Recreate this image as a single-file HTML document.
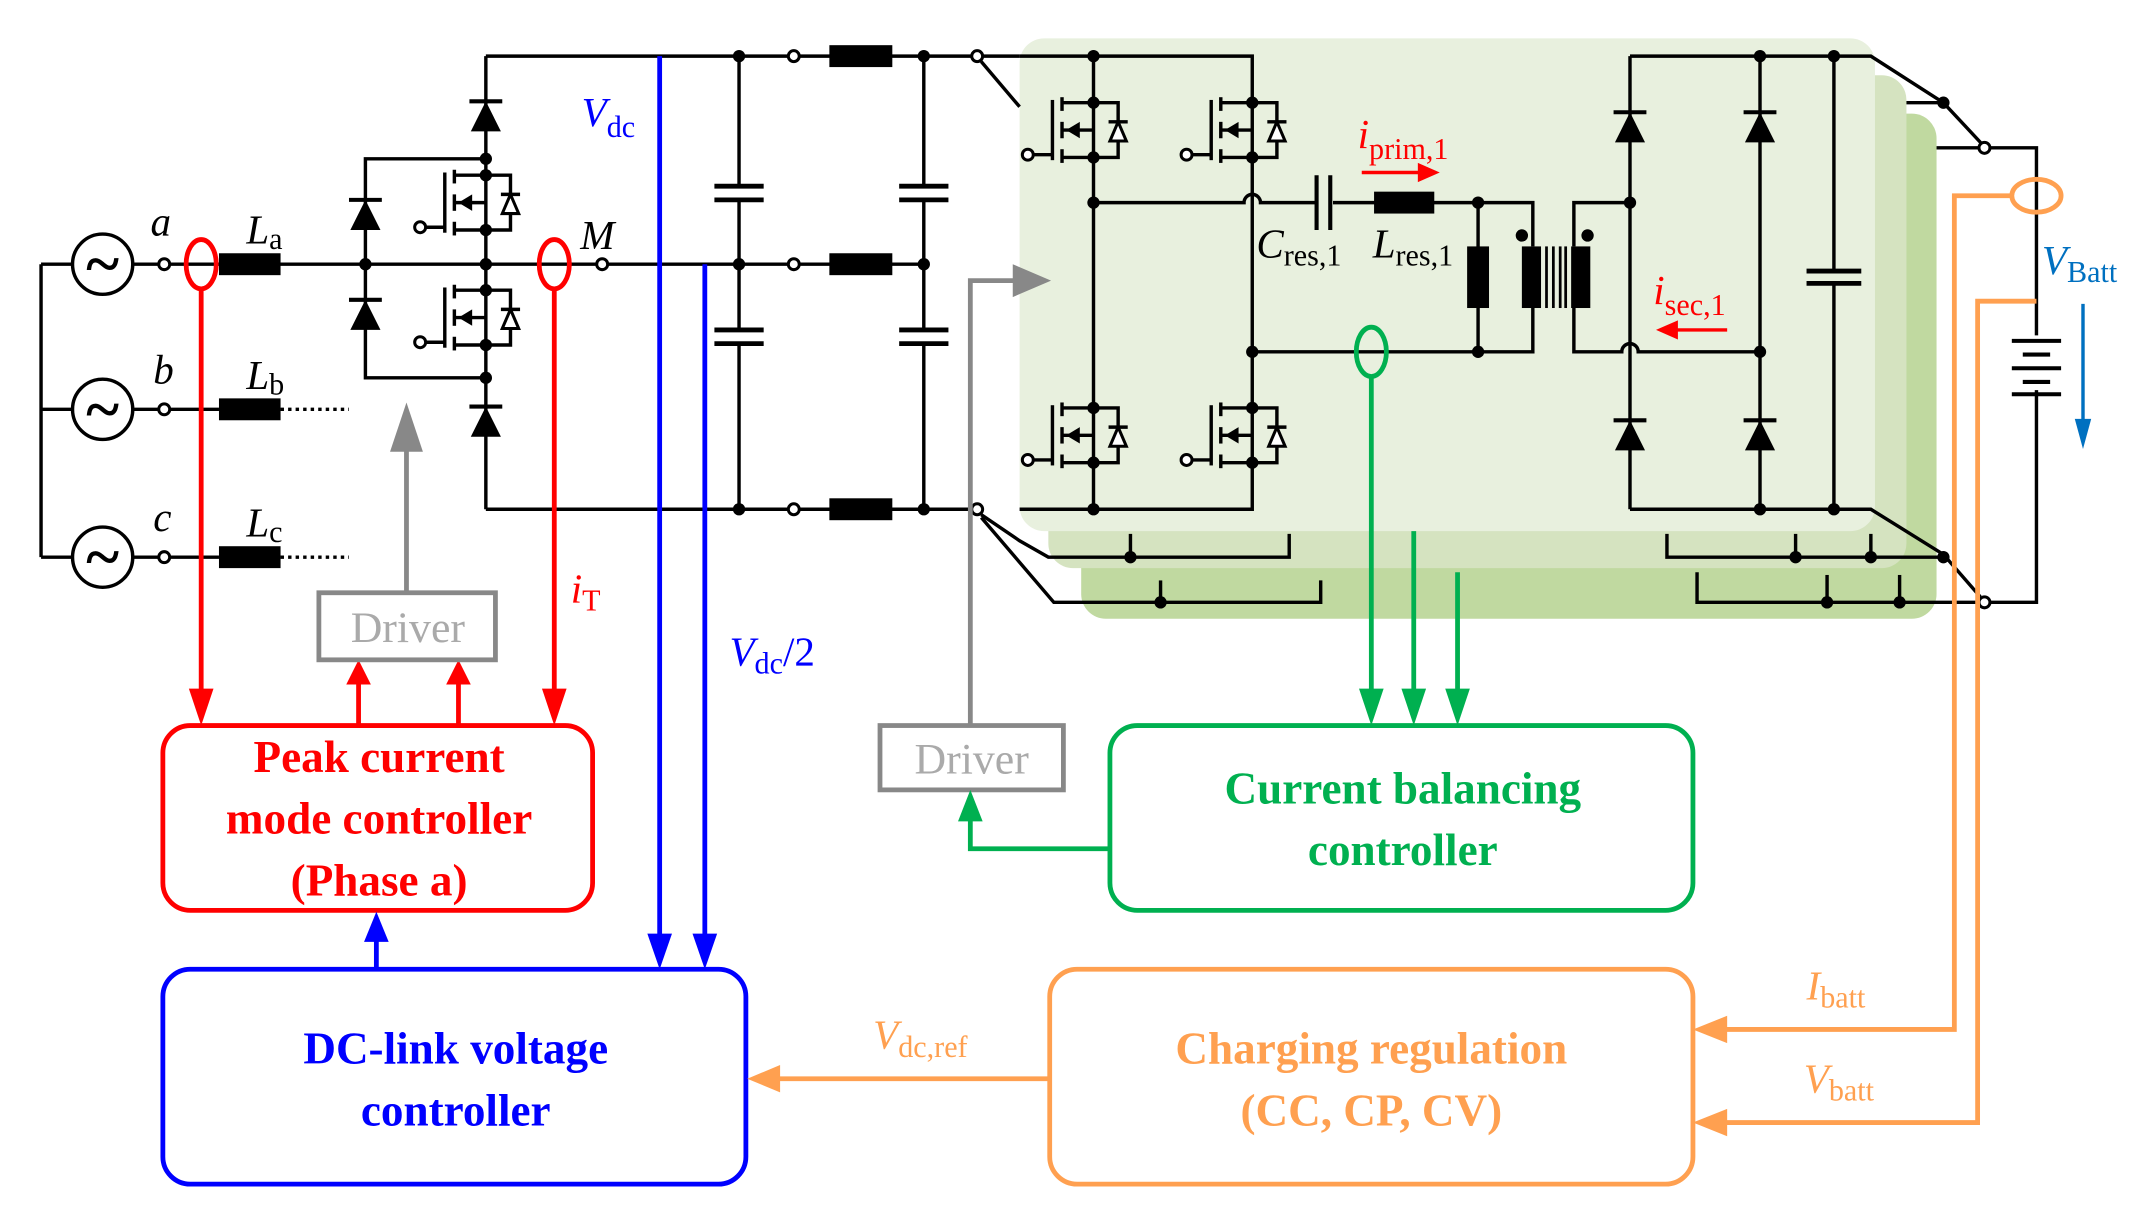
<!DOCTYPE html>
<html><head><meta charset="utf-8"><style>
html,body{margin:0;padding:0;background:#fff;}
svg{display:block;}
text{font-family:"Liberation Serif",serif;}
</style></head><body>
<svg width="2135" height="1217" viewBox="0 0 1560 889" preserveAspectRatio="none" xmlns="http://www.w3.org/2000/svg">
<defs>
<g id="mos">
  <line x1="-30" y1="-22" x2="-30" y2="22" stroke="#000" stroke-width="2.5"/>
  <line x1="-30" y1="18" x2="-44" y2="18" stroke="#000" stroke-width="2.5"/>
  <circle cx="-48" cy="18" r="4" fill="#fff" stroke="#000" stroke-width="2.2"/>
  <line x1="-23" y1="-24" x2="-23" y2="-14" stroke="#000" stroke-width="2.5"/>
  <line x1="-23" y1="-6" x2="-23" y2="6" stroke="#000" stroke-width="2.5"/>
  <line x1="-23" y1="14" x2="-23" y2="24" stroke="#000" stroke-width="2.5"/>
  <polyline points="-23,-20 0,-20" fill="none" stroke="#000" stroke-width="2.5"/>
  <polyline points="-23,20 0,20" fill="none" stroke="#000" stroke-width="2.5"/>
  <line x1="-23" y1="0" x2="0" y2="0" stroke="#000" stroke-width="2.5"/>
  <polygon points="-20,0 -10,-6 -10,6" fill="#000"/>
  <polyline points="0,-20 18,-20 18,20 0,20" fill="none" stroke="#000" stroke-width="2.5"/>
  <polygon points="12,8 24,8 18,-6" fill="#fff" stroke="#000" stroke-width="2.2"/>
  <line x1="11" y1="-6" x2="25" y2="-6" stroke="#000" stroke-width="2.5"/>
  <circle cx="0" cy="-20" r="4.5" fill="#000"/>
  <circle cx="0" cy="20" r="4.5" fill="#000"/>
</g>
<g id="dio">
  <polygon points="-11,11 11,11 0,-11" fill="#000"/>
  <line x1="-12" y1="-11" x2="12" y2="-11" stroke="#000" stroke-width="3"/>
</g>
</defs>

<rect x="790" y="83" width="625" height="369" rx="18" fill="#c0d9a0"/>
<rect x="766" y="55" width="627" height="360" rx="18" fill="#d5e3c0"/>
<rect x="745" y="28" width="625" height="360" rx="18" fill="#e8f0de"/>

<g stroke="#000" stroke-width="2.5" fill="none">
<line x1="30" y1="193" x2="30" y2="407"/>
<line x1="30" y1="193" x2="53" y2="193"/><line x1="30" y1="299" x2="53" y2="299"/><line x1="30" y1="407" x2="53" y2="407"/>
<circle cx="75" cy="193" r="22"/><circle cx="75" cy="299" r="22"/><circle cx="75" cy="407" r="22"/>
<line x1="97" y1="193" x2="116" y2="193"/><line x1="97" y1="299" x2="116" y2="299"/><line x1="97" y1="407" x2="116" y2="407"/>
<line x1="124" y1="193" x2="355" y2="193"/>
<line x1="124" y1="299" x2="160" y2="299"/>
<line x1="124" y1="407" x2="160" y2="407"/>
<line x1="205" y1="299" x2="255" y2="299" stroke-dasharray="2.5,3"/>
<line x1="205" y1="407" x2="255" y2="407" stroke-dasharray="2.5,3"/>
<polyline points="355,116 267,116 267,276 355,276"/>
<line x1="355" y1="41" x2="355" y2="372"/>
<line x1="355" y1="41" x2="714" y2="41"/>
<line x1="355" y1="372" x2="714" y2="372"/>
<line x1="355" y1="193" x2="675" y2="193"/>
<line x1="540" y1="41" x2="540" y2="136"/><line x1="540" y1="146" x2="540" y2="241"/><line x1="540" y1="251" x2="540" y2="372"/>
<line x1="675" y1="41" x2="675" y2="136"/><line x1="675" y1="146" x2="675" y2="241"/><line x1="675" y1="251" x2="675" y2="372"/>
<line x1="522" y1="136" x2="558" y2="136" stroke-width="3.5"/><line x1="522" y1="146" x2="558" y2="146" stroke-width="3.5"/>
<line x1="522" y1="241" x2="558" y2="241" stroke-width="3.5"/><line x1="522" y1="251" x2="558" y2="251" stroke-width="3.5"/>
<line x1="657" y1="136" x2="693" y2="136" stroke-width="3.5"/><line x1="657" y1="146" x2="693" y2="146" stroke-width="3.5"/>
<line x1="657" y1="241" x2="693" y2="241" stroke-width="3.5"/><line x1="657" y1="251" x2="693" y2="251" stroke-width="3.5"/>
<line x1="714" y1="41" x2="745" y2="41"/>
<line x1="717" y1="45" x2="745" y2="78"/>
<polyline points="717,376 745,395 766,407 942,407 942,390"/>
<line x1="826" y1="390" x2="826" y2="407"/>
<polyline points="717,378 770,440 965,440 965,424"/>
<line x1="848" y1="424" x2="848" y2="440"/>
<polyline points="745,41 915,41 915,372 745,372"/>
<line x1="799" y1="41" x2="799" y2="372"/>
<path d="M799,148 H909 a6,6 0 0 1 12,0 H962 M974,148 H1120 V180 M1120,225 V257 H915"/>
<line x1="962" y1="128" x2="962" y2="168" stroke-width="3"/>
<line x1="972" y1="128" x2="972" y2="168" stroke-width="3"/>
<line x1="1080" y1="148" x2="1080" y2="257"/>
<path d="M1150,180 V148 H1191 M1150,225 V257 H1185 a6,6 0 0 1 12,0 H1286"/>
<polyline points="1191,41 1191,372"/>
<polyline points="1286,41 1286,372"/>
<polyline points="1191,41 1367,41 1420,75 1448,105"/>
<polyline points="1191,372 1367,372 1420,405 1447,436"/>
<line x1="1340" y1="41" x2="1340" y2="198"/><line x1="1340" y1="207" x2="1340" y2="372"/>
<line x1="1320" y1="198" x2="1360" y2="198" stroke-width="3.5"/><line x1="1320" y1="207" x2="1360" y2="207" stroke-width="3.5"/>
<line x1="1393" y1="75" x2="1420" y2="75"/>
<line x1="1415" y1="108" x2="1446" y2="108"/>
<polyline points="1454,108 1488,108 1488,245"/>
<polyline points="1488,285 1488,440 1454,440"/>
<polyline points="1218,390 1218,407 1420,407"/>
<line x1="1312" y1="390" x2="1312" y2="407"/><line x1="1367" y1="390" x2="1367" y2="407"/>
<polyline points="1240,418 1240,440 1446,440"/>
<line x1="1335" y1="420" x2="1335" y2="440"/><line x1="1388" y1="420" x2="1388" y2="440"/>
</g>
<g stroke="#000" stroke-width="3">
<line x1="1470" y1="249" x2="1506" y2="249"/><line x1="1478" y1="259" x2="1498" y2="259"/>
<line x1="1470" y1="269" x2="1506" y2="269"/><line x1="1478" y1="279" x2="1498" y2="279"/>
<line x1="1470" y1="288" x2="1506" y2="288"/>
</g>
<g fill="#000">
<rect x="160" y="185" width="45" height="16"/><rect x="160" y="291" width="45" height="16"/><rect x="160" y="399" width="45" height="16"/>
<rect x="606" y="33" width="46" height="16"/><rect x="606" y="185" width="46" height="16"/><rect x="606" y="364" width="46" height="16"/>
<rect x="1004" y="140" width="44" height="16"/>
<rect x="1072" y="180" width="16" height="45"/>
<rect x="1112" y="180" width="14" height="45"/><rect x="1148" y="180" width="14" height="45"/>
<rect x="1129" y="180" width="2" height="45"/><rect x="1134" y="180" width="2" height="45"/><rect x="1139" y="180" width="2" height="45"/><rect x="1143" y="180" width="2" height="45"/>
<circle cx="1112" cy="172" r="4.5"/><circle cx="1160" cy="172" r="4.5"/>
<circle cx="267" cy="193" r="4.5"/><circle cx="355" cy="116" r="4.5"/><circle cx="355" cy="193" r="4.5"/><circle cx="355" cy="276" r="4.5"/>
<circle cx="540" cy="41" r="4.5"/><circle cx="540" cy="193" r="4.5"/><circle cx="540" cy="372" r="4.5"/>
<circle cx="675" cy="41" r="4.5"/><circle cx="675" cy="193" r="4.5"/><circle cx="675" cy="372" r="4.5"/>
<circle cx="799" cy="41" r="4.5"/><circle cx="799" cy="372" r="4.5"/><circle cx="799" cy="148" r="4.5"/><circle cx="915" cy="257" r="4.5"/>
<circle cx="1080" cy="148" r="4.5"/><circle cx="1080" cy="257" r="4.5"/><circle cx="1191" cy="148" r="4.5"/><circle cx="1286" cy="257" r="4.5"/>
<circle cx="1286" cy="41" r="4.5"/><circle cx="1340" cy="41" r="4.5"/><circle cx="1286" cy="372" r="4.5"/><circle cx="1340" cy="372" r="4.5"/>
<circle cx="826" cy="407" r="4.5"/><circle cx="848" cy="440" r="4.5"/><circle cx="1312" cy="407" r="4.5"/><circle cx="1367" cy="407" r="4.5"/>
<circle cx="1335" cy="440" r="4.5"/><circle cx="1388" cy="440" r="4.5"/><circle cx="1420" cy="75" r="4.5"/><circle cx="1420" cy="407" r="4.5"/>
</g>
<g fill="#fff" stroke="#000" stroke-width="2.2">
<circle cx="120" cy="193" r="4"/><circle cx="120" cy="299" r="4"/><circle cx="120" cy="407" r="4"/>
<circle cx="440" cy="193" r="4"/>
<circle cx="580" cy="41" r="4"/><circle cx="580" cy="193" r="4"/><circle cx="580" cy="372" r="4"/>
<circle cx="714" cy="41" r="4"/><circle cx="714" cy="372" r="4"/>
<circle cx="1450" cy="108" r="4"/><circle cx="1450" cy="440" r="4"/>
</g>
<g font-size="46" font-weight="bold" text-anchor="middle"><text x="75" y="208">~</text><text x="75" y="314">~</text><text x="75" y="422">~</text></g>
<use href="#dio" x="355" y="85"/><use href="#dio" x="355" y="308"/>
<use href="#dio" x="267" y="157"/><use href="#dio" x="267" y="230"/>
<use href="#dio" x="1191" y="93"/><use href="#dio" x="1286" y="93"/>
<use href="#dio" x="1191" y="318"/><use href="#dio" x="1286" y="318"/>
<use href="#mos" x="355" y="148"/><use href="#mos" x="355" y="232"/>
<use href="#mos" x="799" y="95"/><use href="#mos" x="915" y="95"/>
<use href="#mos" x="799" y="318"/><use href="#mos" x="915" y="318"/>

<g stroke="#f00" stroke-width="3.5" fill="none">
<ellipse cx="147" cy="193" rx="11" ry="18"/>
<ellipse cx="405" cy="193" rx="11" ry="18"/>
<line x1="147" y1="211" x2="147" y2="515"/>
<line x1="405" y1="211" x2="405" y2="515"/>
<line x1="262" y1="530" x2="262" y2="495"/>
<line x1="335" y1="530" x2="335" y2="495"/>
<rect x="119" y="530" width="314" height="135" rx="20"/>
<line x1="995" y1="126" x2="1040" y2="126" stroke-width="2.5"/>
<line x1="1262" y1="241" x2="1222" y2="241" stroke-width="2.5"/>
</g>
<g fill="#f00">
<polygon points="138,503 156,503 147,530"/><polygon points="396,503 414,503 405,530"/>
<polygon points="253,500 271,500 262,482"/><polygon points="326,500 344,500 335,482"/>
<polygon points="1036,119 1052,126 1036,133"/><polygon points="1226,234 1210,241 1226,248"/>
</g>
<g stroke="#00f" stroke-width="3.5" fill="none">
<line x1="482" y1="41" x2="482" y2="690"/>
<line x1="515" y1="193" x2="515" y2="690"/>
<line x1="275" y1="708" x2="275" y2="685"/>
<rect x="119" y="708" width="426" height="157" rx="20"/>
</g>
<g fill="#00f">
<polygon points="473,682 491,682 482,708"/><polygon points="506,682 524,682 515,708"/>
<polygon points="266,688 284,688 275,666"/>
</g>
<g stroke="#888" stroke-width="3.5" fill="none">
<line x1="297" y1="433" x2="297" y2="322"/>
<rect x="233" y="433" width="129" height="49"/>
<polyline points="709,530 709,205 745,205"/>
<rect x="643" y="530" width="134" height="47"/>
</g>
<g fill="#888"><polygon points="285,330 309,330 297,294"/><polygon points="740,193 768,205 740,217"/></g>
<g stroke="#00b050" stroke-width="3.5" fill="none">
<ellipse cx="1002" cy="257" rx="11" ry="18"/>
<line x1="1002" y1="275" x2="1002" y2="510"/>
<line x1="1033" y1="388" x2="1033" y2="510"/>
<line x1="1065" y1="418" x2="1065" y2="510"/>
<polyline points="811,620 709,620 709,598"/>
<rect x="811" y="530" width="426" height="135" rx="20"/>
</g>
<g fill="#00b050">
<polygon points="993,503 1011,503 1002,530"/><polygon points="1024,503 1042,503 1033,530"/><polygon points="1056,503 1074,503 1065,530"/>
<polygon points="700,600 718,600 709,577"/>
</g>
<g stroke="#ffa050" stroke-width="3.5" fill="none">
<ellipse cx="1488" cy="143" rx="18" ry="12"/>
<polyline points="1470,143 1428,143 1428,752 1255,752"/>
<polyline points="1488,220 1445,220 1445,820 1255,820"/>
<line x1="767" y1="788" x2="565" y2="788"/>
<rect x="767" y="708" width="470" height="157" rx="20"/>
</g>
<g fill="#ffa050">
<polygon points="1262,742 1262,762 1237,752"/><polygon points="1262,810 1262,830 1237,820"/>
<polygon points="570,778 570,798 546,788"/>
</g>
<line x1="1522" y1="222" x2="1522" y2="310" stroke="#0070c0" stroke-width="2.5"/>
<polygon points="1516,306 1528,306 1522,328" fill="#0070c0"/>

<g font-style="italic" font-size="30">
<text x="110" y="172">a</text><text x="112" y="280">b</text><text x="112" y="388">c</text>
<text x="180" y="178">L<tspan font-style="normal" font-size="22" dy="4">a</tspan></text>
<text x="180" y="284">L<tspan font-style="normal" font-size="22" dy="4">b</tspan></text>
<text x="180" y="392">L<tspan font-style="normal" font-size="22" dy="4">c</tspan></text>
<text x="424" y="182">M</text>
<text x="425" y="92" fill="#00f">V<tspan font-style="normal" font-size="22" dy="8">dc</tspan></text>
<text x="533" y="486" fill="#00f">V<tspan font-style="normal" font-size="22" dy="6">dc</tspan><tspan font-style="normal" dy="-6">/2</tspan></text>
<text x="417" y="440" fill="#f00">i<tspan font-style="normal" font-size="22" dy="6">T</tspan></text>
<text x="992" y="108" fill="#f00">i<tspan font-style="normal" font-size="22" dy="8">prim,1</tspan></text>
<text x="1208" y="222" fill="#f00">i<tspan font-style="normal" font-size="22" dy="8">sec,1</tspan></text>
<text x="918" y="188">C<tspan font-style="normal" font-size="22" dy="6">res,1</tspan></text>
<text x="1003" y="188">L<tspan font-style="normal" font-size="22" dy="6">res,1</tspan></text>
<text x="1492" y="200" fill="#0070c0">V<tspan font-style="normal" font-size="22" dy="6">Batt</tspan></text>
<text x="1320" y="730" fill="#ffa050">I<tspan font-style="normal" font-size="22" dy="6">batt</tspan></text>
<text x="1318" y="798" fill="#ffa050">V<tspan font-style="normal" font-size="22" dy="6">batt</tspan></text>
<text x="638" y="766" fill="#ffa050">V<tspan font-style="normal" font-size="22" dy="6">dc,ref</tspan></text>
</g>
<g font-size="32" fill="#aaa" text-anchor="middle">
<text x="298" y="469">Driver</text><text x="710" y="565">Driver</text>
</g>
<g font-size="33" font-weight="bold" text-anchor="middle">
<text x="277" y="564" fill="#f00">Peak current</text>
<text x="277" y="609" fill="#f00">mode controller</text>
<text x="277" y="654" fill="#f00">(Phase a)</text>
<text x="333" y="777" fill="#00f">DC-link voltage</text>
<text x="333" y="822" fill="#00f">controller</text>
<text x="1025" y="587" fill="#00b050">Current balancing</text>
<text x="1025" y="632" fill="#00b050">controller</text>
<text x="1002" y="777" fill="#ffa050">Charging regulation</text>
<text x="1002" y="822" fill="#ffa050">(CC, CP, CV)</text>
</g>
</svg>
</body></html>
